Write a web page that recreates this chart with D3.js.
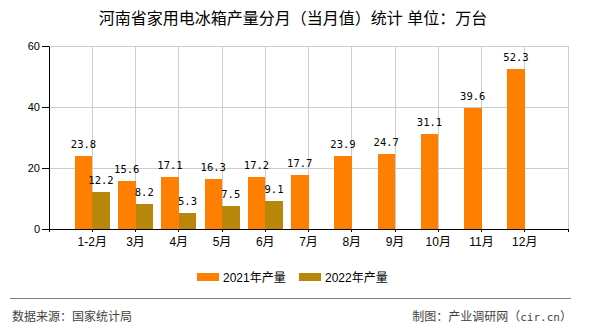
<!DOCTYPE html>
<html><head><meta charset="utf-8">
<script src="https://cdn.jsdelivr.net/npm/d3@7"></script>
<style>body{margin:0;background:#fff;} svg{display:block;}</style>
</head><body>
<svg id="chart" width="590" height="330"></svg>
<script>
const categories = ["1-2月","3月","4月","5月","6月","7月","8月","9月","10月","11月","12月"];
const series2021 = [23.8,15.6,17.1,16.3,17.2,17.7,23.9,24.7,31.1,39.6,52.3];
const series2022 = [12.2,8.2,5.3,7.5,9.1,null,null,null,null,null,null];
const seriesNames = ["2021年产量","2022年产量"];
const seriesColors = ["#FF8000","#B8860B"];
const yTicks = [0,20,40,60];
const title = "河南省家用电冰箱产量分月（当月值）统计 单位：万台";
const sourceText = "数据来源：国家统计局";
const creditParts = ["制图：产业调研网（", "cir.cn", "）"];

const svg = d3.select("#chart");
const L = 49, R = 568, T = 46, B = 229;
const x = d3.scalePoint().domain(categories).range([L, R]).padding(1);
const y = d3.scaleLinear().domain([0, 60]).range([B, T]);
const barW = 17.5;
const cjk = "'Liberation Sans','Noto Sans CJK SC',sans-serif";
const mono = "'DejaVu Sans Mono','Noto Sans CJK SC',monospace";

// title
svg.append("text").attr("x", 293).attr("y", 24).attr("text-anchor", "middle")
  .attr("font-family", cjk).attr("font-size", 16).attr("fill", "#000")
  .text(title);

// grid
const g = svg.append("g");
g.selectAll(".hg").data(yTicks.filter(d => d > 0)).join("line")
  .attr("x1", L).attr("x2", R).attr("y1", d => y(d)).attr("y2", d => y(d))
  .attr("stroke", "#cccccc").attr("stroke-width", 1).attr("shape-rendering", "crispEdges");
const vlines = categories.map(c => x(c)).concat([R]);
g.selectAll(".vg").data(vlines).join("line")
  .attr("x1", d => d).attr("x2", d => d).attr("y1", T).attr("y2", B)
  .attr("stroke", "#cccccc").attr("stroke-width", 1).attr("shape-rendering", "crispEdges");

// bars
const data = categories.map((c, i) => ({c, v: [series2021[i], series2022[i]]}));
seriesNames.forEach((name, si) => {
  const vals = data.filter(d => d.v[si] != null);
  svg.append("g").selectAll("rect").data(vals).join("rect")
    .attr("x", d => si === 0 ? x(d.c) - barW : x(d.c))
    .attr("width", barW)
    .attr("y", d => y(d.v[si]))
    .attr("height", d => B - y(d.v[si]))
    .attr("fill", seriesColors[si]).attr("shape-rendering", "crispEdges");
  svg.append("g").selectAll("text").data(vals).join("text")
    .attr("x", d => si === 0 ? x(d.c) - barW / 2 : x(d.c) + barW / 2)
    .attr("y", d => y(d.v[si]) - 8)
    .attr("text-anchor", "middle").attr("font-family", mono).attr("font-size", 10.5)
    .attr("fill", "#000").text(d => d.v[si].toFixed(1));
});

// axes
const yAxis = d3.axisLeft(y).tickValues(yTicks).tickSize(7).tickSizeOuter(0).tickPadding(2);
const ya = svg.append("g").attr("transform", `translate(${L},0)`).call(yAxis);
ya.select(".domain").attr("stroke", "#000");
ya.selectAll(".tick line").attr("stroke", "#000");
ya.selectAll("text").attr("font-family", "'Liberation Sans',sans-serif").attr("font-size", 11).attr("fill", "#000");

const xa = svg.append("g").attr("transform", `translate(0,${B})`);
xa.append("line").attr("x1", L).attr("x2", R).attr("y1", 0).attr("y2", 0)
  .attr("stroke", "#000").attr("shape-rendering", "crispEdges");
xa.selectAll(".xt").data([L].concat(vlines)).join("line")
  .attr("x1", d => d).attr("x2", d => d).attr("y1", 0).attr("y2", 3)
  .attr("stroke", "#000").attr("shape-rendering", "crispEdges");
xa.selectAll(".xl").data(categories).join("text")
  .attr("x", d => x(d)).attr("y", 17).attr("text-anchor", "middle")
  .attr("font-family", cjk).attr("font-size", 12).attr("fill", "#000").text(d => d);

// legend
const lg = svg.append("g");
const legX = [197, 299];
seriesNames.forEach((name, i) => {
  lg.append("rect").attr("x", legX[i]).attr("y", 273).attr("width", 22).attr("height", 8)
    .attr("fill", seriesColors[i]);
  lg.append("text").attr("x", legX[i] + 26).attr("y", 281.5)
    .attr("font-family", cjk).attr("font-size", 12).attr("fill", "#000").text(name);
});

// footer
svg.append("line").attr("x1", 10).attr("x2", 571).attr("y1", 298).attr("y2", 298)
  .attr("stroke", "#808080").attr("stroke-width", 1).attr("shape-rendering", "crispEdges");
svg.append("text").attr("x", 12).attr("y", 321).attr("font-family", cjk).attr("font-size", 12)
  .attr("fill", "#444").text(sourceText);
const ct = svg.append("text").attr("x", 572).attr("y", 321).attr("text-anchor", "end")
  .attr("font-family", cjk).attr("font-size", 12).attr("fill", "#444");
ct.append("tspan").text(creditParts[0]);
ct.append("tspan").attr("font-family", mono).attr("font-size", 11).text(creditParts[1]);
ct.append("tspan").text(creditParts[2]);
</script>
</body></html>
